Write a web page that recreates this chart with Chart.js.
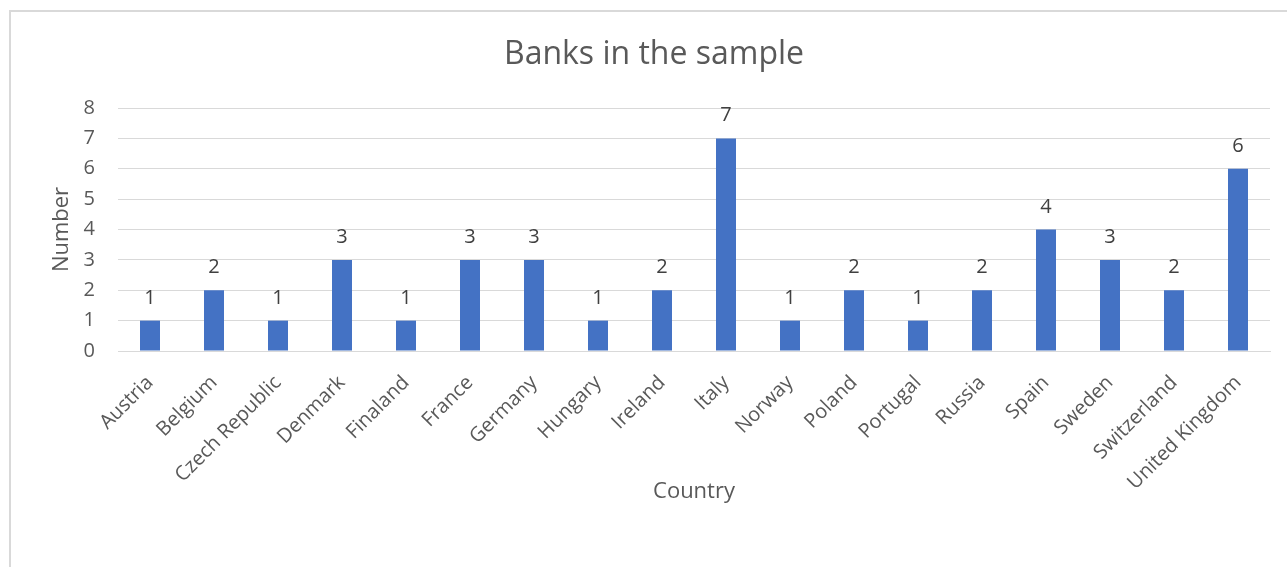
<!DOCTYPE html>
<html>
<head>
<meta charset="utf-8">
<title>Banks in the sample</title>
<script src="https://cdn.jsdelivr.net/npm/chart.js@4"></script>
<style>
  html, body { margin: 0; padding: 0; background: #fff; overflow: hidden; }
  #frame {
    position: absolute; left: 9px; top: 10px;
    width: 1400px; height: 700px;
    border: 2px solid #d9d9d9;
  }
  #chart { position: absolute; left: 0; top: 0; }
</style>
</head>
<body>
<div id="frame"></div>
<canvas id="chart" width="1287" height="567"></canvas>
<script>
// banks per country
const countries = ['Austria', 'Belgium', 'Czech Republic', 'Denmark', 'Finaland', 'France', 'Germany',
  'Hungary', 'Ireland', 'Italy', 'Norway', 'Poland', 'Portugal', 'Russia', 'Spain', 'Sweden',
  'Switzerland', 'United Kingdom'];
const bankCounts = [1, 2, 1, 3, 1, 3, 3, 1, 2, 7, 1, 2, 1, 2, 4, 3, 2, 6];
const yTicks = [0, 1, 2, 3, 4, 5, 6, 7, 8];

const FONT = '"Open Sans", sans-serif';
const GREY = '#595959';

// writes the value above each bar
const valueLabels = {
  id: 'valueLabels',
  afterDatasetsDraw(chart) {
    const ctx = chart.ctx;
    const meta = chart.getDatasetMeta(0);
    ctx.save();
    ctx.font = '20px ' + FONT;
    ctx.fillStyle = '#404040';
    ctx.textAlign = 'center';
    ctx.textBaseline = 'alphabetic';
    meta.data.forEach((bar, i) => {
      ctx.fillText(String(bankCounts[i]), bar.x, bar.y - 17);
    });
    ctx.restore();
  }
};

new Chart(document.getElementById('chart'), {
  type: 'bar',
  data: {
    labels: countries,
    datasets: [{
      data: bankCounts,
      backgroundColor: '#4472C4',
      barPercentage: 0.3125,
      categoryPercentage: 1
    }]
  },
  options: {
    responsive: false,
    animation: false,
    layout: { padding: { left: 38, right: 17, top: 0, bottom: 0 } },
    plugins: {
      legend: { display: false },
      tooltip: { enabled: false },
      title: {
        display: true,
        text: 'Banks in the sample',
        color: GREY,
        font: { family: FONT, size: 32, weight: 'normal' },
        padding: { top: 36, bottom: 33.6 }
      }
    },
    scales: {
      x: {
        grid: { display: false },
        border: { color: '#d9d9d9' },
        ticks: {
          color: GREY,
          font: { family: FONT, size: 20 },
          minRotation: 45,
          maxRotation: 45,
          autoSkip: false,
          padding: 12
        },
        title: {
          display: true,
          text: 'Country',
          color: GREY,
          font: { family: FONT, size: 22 },
          padding: { top: 0, bottom: 62 }
        },
        afterFit(scale) { scale.height = 567 - 351; }
      },
      y: {
        min: 0,
        max: 8,
        afterBuildTicks(scale) { scale.ticks = yTicks.map(v => ({ value: v })); },
        grid: { color: '#d9d9d9', drawTicks: false },
        border: { display: false },
        ticks: {
          color: GREY,
          font: { family: FONT, size: 20 },
          padding: 23
        },
        title: {
          display: true,
          text: 'Number',
          color: GREY,
          font: { family: FONT, size: 22 },
          padding: { top: 11, bottom: 0 }
        },
        afterFit(scale) { scale.width = 80; }
      }
    }
  },
  plugins: [valueLabels]
});
</script>
</body>
</html>
